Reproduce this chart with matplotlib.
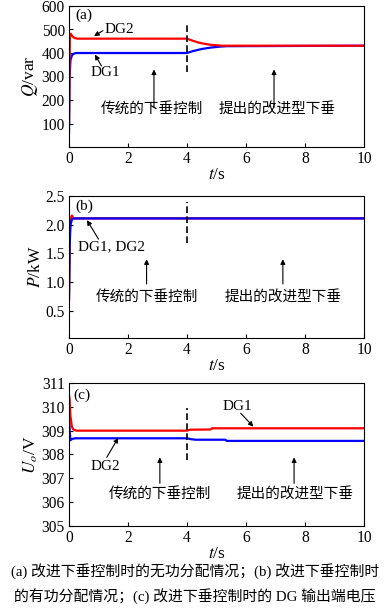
import matplotlib
matplotlib.use('Agg')
import matplotlib.pyplot as plt

plt.rcParams['font.family'] = ['Liberation Serif', 'Noto Sans CJK SC']
plt.rcParams['mathtext.fontset'] = 'stix'
plt.rcParams['font.size'] = 11

# (a) 无功功率 Q/var
t_q_dg2 = [0, 0.03, 0.06, 0.12, 0.2, 0.3, 4.0, 4.2, 4.4, 4.6, 4.8, 5.0, 5.2, 5.5, 10]
q_dg2 = [100, 470, 482, 470, 463, 461, 461, 452, 444, 439, 435, 433, 431, 431, 431]
t_q_dg1 = [0, 0.02, 0.05, 0.1, 0.15, 0.2, 0.3, 4.0, 4.2, 4.5, 4.8, 5.1, 5.35, 10]
q_dg1 = [60, 300, 370, 390, 396, 399, 400, 400, 408, 417, 423, 427, 429, 431]

# (b) 有功功率 P/kW
t_p_dg2 = [0, 0.03, 0.06, 0.1, 0.15, 10]
p_dg2 = [0.7, 1.9, 2.12, 2.16, 2.11, 2.11]
t_p_dg1 = [0, 0.02, 0.05, 0.1, 0.15, 10]
p_dg1 = [0.7, 1.6, 2.0, 2.09, 2.11, 2.11]

# (c) 输出端电压 Uo/V
t_u_dg1 = [0, 0.02, 0.05, 0.1, 0.15, 0.25, 4.0, 4.1, 4.8, 4.85, 10]
u_dg1 = [310.5, 310.3, 309.6, 309.15, 309.05, 309.0, 309.0, 309.04, 309.05, 309.1, 309.1]
t_u_dg2 = [0, 0.02, 0.05, 0.1, 0.2, 4.0, 4.15, 4.3, 5.3, 5.35, 10]
u_dg2 = [310.3, 309.0, 308.6, 308.65, 308.68, 308.68, 308.64, 308.62, 308.62, 308.57, 308.57]

xticks = [0, 2, 4, 6, 8, 10]
label_old = '传统的下垂控制'
label_new = '提出的改进型下垂'
caption1 = '(a) 改进下垂控制时的无功分配情况；(b) 改进下垂控制时'
caption2 = '的有功分配情况；(c) 改进下垂控制时的 DG 输出端电压'

fig = plt.figure(figsize=(3.9, 6.15), dpi=100)
left, width = 69 / 390, 295 / 390
ax1 = fig.add_axes([left, 468 / 615, width, 141 / 615])
ax2 = fig.add_axes([left, 277 / 615, width, 142 / 615])
ax3 = fig.add_axes([left, 89 / 615, width, 143 / 615])

arrow = dict(arrowstyle='-|>', color='black', lw=0.8, mutation_scale=7,
             shrinkA=0, shrinkB=0)

for ax in (ax1, ax2, ax3):
    ax.set_xlim(0, 10)
    ax.set_xticks(xticks)
    ax.tick_params(direction='in', length=3, width=0.8, pad=3, labelsize=11.2)
    for s in ax.spines.values():
        s.set_linewidth(0.8)
    ax.set_xlabel('$t$/s', fontsize=12.5, labelpad=0)

# (a)
ax1.plot(t_q_dg1, q_dg1, color='blue', lw=1.6)
ax1.plot(t_q_dg2, q_dg2, color='red', lw=1.6)
ax1.plot([4, 4], [320, 525], color='black', lw=1.2, dashes=(4, 2))
ax1.set_ylim(0, 600)
ax1.set_yticks([100, 200, 300, 400, 500, 600])
ax1.set_ylabel('$Q$/var', fontsize=12.5, labelpad=1)
ax1.text(0.2, 560, '(a)', va='center', fontsize=11)
ax1.annotate('', xy=(0.85, 472), xytext=(1.15, 495), arrowprops=arrow)
ax1.text(1.2, 500, 'DG2', va='center', ha='left', fontsize=11)
ax1.annotate('', xy=(0.88, 393), xytext=(1.1, 345), arrowprops=arrow)
ax1.text(1.22, 318, 'DG1', va='center', ha='center', fontsize=11)
ax1.annotate('', xy=(2.88, 330), xytext=(2.88, 168), arrowprops=arrow)
ax1.annotate('', xy=(6.95, 330), xytext=(6.95, 168), arrowprops=arrow)
ax1.text(2.81, 164, label_old, ha='center', va='center', fontsize=10.5)
ax1.text(7.07, 164, label_new, ha='center', va='center', fontsize=10.5)

# (b)
ax2.plot(t_p_dg2, p_dg2, color='red', lw=1.6)
ax2.plot(t_p_dg1, p_dg1, color='blue', lw=1.6)
ax2.plot([4, 4], [1.69, 2.4], color='black', lw=1.2, dashes=(4, 2))
ax2.set_ylim(0.03, 2.5)
ax2.set_yticks([0.5, 1.0, 1.5, 2.0, 2.5])
ax2.set_yticklabels(['0.5', '1.0', '1.5', '2.0', '2.5'])
ax2.set_ylabel('$P$/kW', fontsize=12.5, labelpad=1)
ax2.text(0.2, 2.32, '(b)', va='center', fontsize=11)
ax2.annotate('', xy=(0.61, 2.08), xytext=(1.0, 1.75), arrowprops=arrow)
ax2.text(0.3, 1.62, 'DG1, DG2', va='center', ha='left', fontsize=11)
ax2.annotate('', xy=(2.63, 1.4), xytext=(2.63, 0.97), arrowprops=arrow)
ax2.annotate('', xy=(7.25, 1.4), xytext=(7.25, 0.97), arrowprops=arrow)
ax2.text(2.63, 0.74, label_old, ha='center', va='center', fontsize=10.5)
ax2.text(7.25, 0.74, label_new, ha='center', va='center', fontsize=10.5)

# (c)
ax3.plot(t_u_dg2, u_dg2, color='blue', lw=1.6)
ax3.plot(t_u_dg1, u_dg1, color='red', lw=1.6)
ax3.plot([4, 4], [307.77, 309.94], color='black', lw=1.2, dashes=(4, 2))
ax3.set_ylim(305, 311)
ax3.set_yticks([305, 306, 307, 308, 309, 310, 311])
ax3.set_ylabel('$U_o$/V', fontsize=12.5, labelpad=1)
ax3.text(0.15, 310.5, '(c)', va='center', fontsize=11)
ax3.annotate('', xy=(6.25, 309.17), xytext=(5.82, 309.73), arrowprops=arrow)
ax3.text(5.69, 310.0, 'DG1', va='center', ha='center', fontsize=11)
ax3.annotate('', xy=(1.67, 308.7), xytext=(1.28, 307.88), arrowprops=arrow)
ax3.text(1.22, 307.49, 'DG2', va='center', ha='center', fontsize=11)
ax3.annotate('', xy=(3.08, 307.88), xytext=(3.08, 306.79), arrowprops=arrow)
ax3.annotate('', xy=(7.63, 307.88), xytext=(7.63, 306.79), arrowprops=arrow)
ax3.text(3.07, 306.34, label_old, ha='center', va='center', fontsize=10.5)
ax3.text(7.66, 306.34, label_new, ha='center', va='center', fontsize=10.5)

fig.text(0.5, 1 - 571 / 615, caption1, ha='center', va='center', fontsize=10.7)
fig.text(0.5, 1 - 597 / 615, caption2, ha='center', va='center', fontsize=10.7)

fig.savefig('out.png', dpi=100)
